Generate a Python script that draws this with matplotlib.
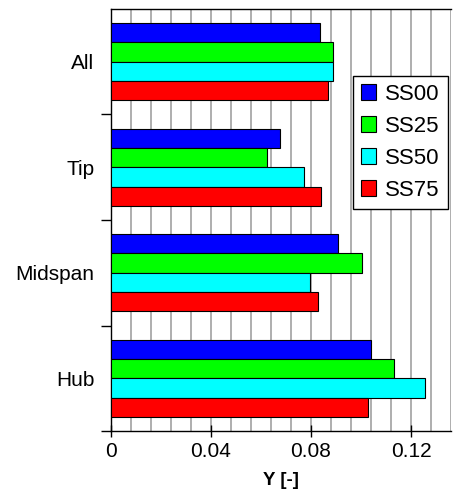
import matplotlib
matplotlib.use("Agg")
import matplotlib.pyplot as plt
import numpy as np

plt.rcParams['font.family'] = ['Liberation Sans', 'DejaVu Sans']

categories = ["All", "Tip", "Midspan", "Hub"]
series = ["SS00", "SS25", "SS50", "SS75"]
ss00 = [0.0836, 0.0676, 0.0907, 0.1040]
ss25 = [0.0889, 0.0625, 0.1003, 0.1132]
ss50 = [0.0888, 0.0771, 0.0797, 0.1256]
ss75 = [0.0869, 0.0841, 0.0827, 0.1029]
values = [ss00, ss25, ss50, ss75]
colors = ["#0000ff", "#00ff00", "#00ffff", "#ff0000"]
xticks = [0, 0.04, 0.08, 0.12]
xtick_labels = ["0", "0.04", "0.08", "0.12"]

fig = plt.figure(figsize=(4.54, 5.01), dpi=100)
ax = fig.add_axes([111/454, 1-431/501, 340/454, 422/501])

h = 0.183
y = np.arange(len(categories))
for k, (vals, col, name) in enumerate(zip(values, colors, series)):
    ax.barh(y + (k - 1.5) * h, vals, height=h, color=col, edgecolor='black',
            linewidth=0.8, label=name, zorder=3)

ax.set_xlim(0, 0.136)
ax.set_ylim(3.5, -0.5)
ax.set_xticks(np.arange(0, 0.1361, 0.008), minor=True)
ax.set_xticks(xticks)
ax.set_xticklabels(xtick_labels, fontsize=15)
ax.xaxis.grid(True, which='both', color='#999999', linewidth=1.1, zorder=0)
ax.set_axisbelow(True)

ax.set_yticks(y)
ax.set_yticklabels(categories, fontsize=15)
ax.set_yticks([0.5, 1.5, 2.5, 3.5], minor=True)
ax.tick_params(axis='y', which='major', length=0, pad=12)
ax.tick_params(axis='y', which='minor', length=7, width=1, direction='out')
ax.tick_params(axis='x', which='major', length=8, width=1, direction='inout', pad=4)
ax.tick_params(axis='x', which='minor', length=0)

for s in ['left', 'bottom', 'top']:
    ax.spines[s].set_color('black')
    ax.spines[s].set_linewidth(1.0)
ax.spines['right'].set_visible(False)

ax.set_xlabel("Y [-]", fontsize=13.5, fontweight='bold', labelpad=8)

leg = ax.legend(loc='center', bbox_to_anchor=(0.851, 0.684), fontsize=16,
                frameon=True, fancybox=False, edgecolor='black', framealpha=1,
                handlelength=0.7, handleheight=0.7, handletextpad=0.4,
                labelspacing=0.5, borderpad=0.35, borderaxespad=0)
leg.get_frame().set_linewidth(1.0)
for p in leg.get_patches():
    p.set_linewidth(0.8)

fig.savefig("out.png", dpi=100)
